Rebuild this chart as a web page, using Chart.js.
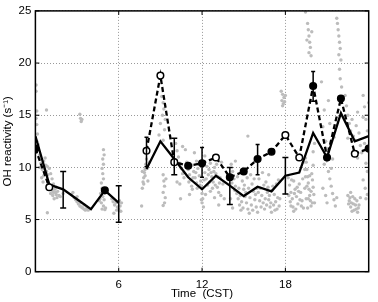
<!DOCTYPE html>
<html>
<head>
<meta charset="utf-8">
<script src="https://cdn.jsdelivr.net/npm/chart.js@4/dist/chart.umd.min.js"></script>
<style>
    html, body { margin: 0; padding: 0; background: #fff; }
    #wrap { width: 378px; height: 302px; }
</style>
</head>
<body>
<div id="wrap"><canvas id="chart" width="378" height="302"></canvas></div>
<script>
// Hourly values (CST)
const hours = [0,1,2,3,4,5,6,7,8,9,10,11,12,13,14,15,16,17,18,19,20,21,22,23,24];
const modelVals = [13.0,8.35,7.9,6.95,6.0,7.8,6.6,null,9.85,12.5,10.8,9.05,7.9,9.2,8.25,7.25,8.15,7.7,9.2,9.5,13.3,10.95,15.2,12.5,13.0];
const measVals = [11.8,8.1,null,null,null,7.8,null,null,11.6,18.8,10.5,10.15,10.4,10.95,9.05,9.6,10.8,11.5,13.1,10.95,17.8,10.95,16.6,11.3,11.8];
const openHours = [1,8,9,10,13,18,19,23];

// Error bars
const modelErrHours = [2,6,10,14,18];
const modelErrLow = [6.1,4.75,9.3,6.45,7.45];
const modelErrHigh = [9.6,8.25,12.8,10.0,10.95];
const measErrHours = [8,12,16,20];
const measErrLow = [10.05,9.05,9.3,16.35];
const measErrHigh = [12.9,11.9,12.2,19.2];

// Raw observations (grey dots), [hour, value]
const rawPoints = [
    [0.05,17.9],[0.05,17.3],[0.1,15.4],[0.05,14.7],[0.1,14.1],[0.15,13.2],[0.1,12.5],[0.2,12.2],[0.8,15.5],
    [0.3,11.2],[0.35,10.8],[0.4,10.4],[0.3,10.0],[0.5,9.8],[0.6,10.6],[0.7,10.9],[0.75,10.2],[0.8,9.6],
    [0.9,9.3],[0.6,9.2],[0.45,9.0],[1.0,9.9],[1.1,9.4],[1.2,8.9],[0.9,8.6],[1.05,8.2],[1.2,7.8],[1.3,7.6],
    [1.4,7.9],[1.5,7.4],[1.6,7.7],[1.7,7.3],[1.1,7.5],[0.95,7.9],[1.3,8.4],[1.5,8.1],[0.86,5.65],[1.8,7.2],[2.0,7.5],
    [0.55,8.6],[0.65,9.9],[0.85,10.1],[1.15,8.0],[1.25,7.3],[1.35,7.0],[1.45,7.6],[1.55,7.1],
    [2.6,7.4],[2.8,7.1],[2.9,6.9],[3.0,6.7],[3.1,6.5],[3.2,6.3],[3.3,6.2],[3.4,6.1],[3.5,6.0],[3.6,5.9],
    [3.7,6.1],[3.8,5.9],[3.3,6.6],[3.0,7.2],[2.7,7.6],[3.5,6.4],
    [3.2,15.1],[3.25,14.7],[3.3,14.4],[3.35,14.6],
    [4.9,11.7],[4.95,11.2],[4.85,10.8],[4.9,10.3],[4.8,9.9],[4.85,9.4],[4.9,8.9],[4.75,8.5],[4.8,8.0],
    [4.7,7.5],[4.85,7.2],[4.95,6.9],[4.75,6.6],[4.9,6.3],[5.05,6.1],[4.8,6.0],[5.0,5.95],[4.6,6.8],[4.65,7.0],
    [5.5,7.0],[5.6,6.7],[5.7,6.4],[5.8,6.6],[5.9,6.2],[6.0,6.0],[6.1,6.3],[6.2,6.6],[5.65,5.6],[5.85,5.9],[6.05,6.8],[6.15,5.8],
    [7.65,6.3],[7.7,8.0],[7.75,8.6],[7.8,9.0],[7.85,9.5],[7.9,9.8],[7.95,10.3],[8.0,10.8],[7.8,8.4],
    [7.9,9.2],[8.05,9.9],[8.1,8.7],[7.7,9.6],[8.2,10.5],
    [9.1,16.8],[9.2,16.2],[9.25,15.6],[9.15,15.0],[9.0,14.2],[9.3,13.6],[8.9,13.1],[9.35,14.6],[9.2,12.6],
    [9.2,9.3],[9.25,8.7],[9.3,8.2],[9.2,7.6],[9.35,7.1],[9.3,6.6],[9.2,6.35],[9.4,8.9],
    [10.1,12.3],[10.2,11.6],[10.3,11.0],[10.4,10.4],[10.5,9.9],[10.6,9.4],[10.7,9.0],[10.2,8.6],[10.4,8.4],
    [10.8,11.7],[10.6,12.0],[10.45,7.0],
    [10.9,10.5],[11.0,9.8],[11.1,9.3],[11.2,8.8],[11.3,10.2],[11.4,9.6],[11.5,9.0],[11.6,8.5],[11.7,9.9],
    [11.8,9.2],[11.9,8.7],[12.0,8.1],[12.0,7.5],[12.05,7.0],[12.0,6.6],[12.1,6.2],[11.95,6.9],[12.2,9.5],
    [12.3,8.9],[12.4,8.3],[12.5,9.8],[12.6,10.4],[12.7,9.1],[12.8,8.6],[12.9,10.0],[13.0,9.4],[13.1,8.1],
    [13.2,7.6],[13.3,9.0],[13.4,10.5],[13.5,8.4],[13.6,7.0],[13.2,6.4],[11.6,10.6],[11.3,7.9],[11.1,7.4],
    [12.6,7.7],[12.9,7.1],[11.45,11.4],[12.2,11.1],
    [11.05,8.6],[11.15,10.0],[11.25,8.2],[11.35,9.0],[11.55,9.5],[11.65,8.0],[11.75,10.3],[11.85,8.3],
    [12.15,8.8],[12.25,7.4],[12.35,10.1],[12.45,9.3],[12.55,8.6],[12.65,9.5],[12.75,8.0],[12.85,9.6],
    [12.95,8.3],[13.05,10.3],[13.15,9.1],[13.25,8.5],[13.35,7.3],
    [14.1,10.3],[14.2,9.6],[14.3,8.9],[14.4,8.2],[14.5,7.5],[14.6,7.0],[14.7,6.4],[14.8,5.9],[14.9,8.7],
    [15.0,7.9],[15.1,7.2],[15.2,6.6],[15.3,6.0],[15.4,5.6],[15.5,9.3],[15.6,8.4],[15.7,7.7],[15.8,6.9],
    [15.9,6.2],[14.4,10.6],[15.3,13.0],[14.05,7.0],[14.2,6.1],[15.0,9.9],
    [14.15,8.5],[14.35,7.8],[14.55,9.1],[14.65,8.0],[14.75,7.3],[14.85,6.7],[14.95,6.1],[15.05,8.3],
    [15.15,7.6],[15.25,9.0],[15.35,8.0],[15.45,7.1],[15.55,6.4],[15.65,5.9],[15.75,8.9],[15.85,7.4],[15.95,8.0],
    [16.1,8.9],[16.2,8.0],[16.3,7.3],[16.4,6.6],[16.5,6.0],[16.6,8.6],[16.7,7.6],[16.8,6.9],[16.9,6.2],
    [17.0,5.7],[17.1,8.2],[17.2,7.4],[17.3,6.7],[17.4,6.0],[17.5,8.8],[17.6,7.0],[16.35,9.5],[16.8,9.3],[16.0,5.7],
    [16.05,7.6],[16.15,6.8],[16.25,6.2],[16.45,8.3],[16.55,7.0],[16.65,6.4],[16.75,8.1],[16.85,7.3],
    [16.95,6.6],[17.05,7.8],[17.15,6.4],[17.25,5.9],[17.35,8.4],[17.45,7.1],[17.55,6.3],
    [17.7,17.3],[17.8,17.0],[17.9,16.7],[17.75,16.4],[17.85,16.1],[18.0,16.9],[17.95,16.3],[17.8,15.9],
    [18.2,9.0],[18.3,8.3],[18.4,7.6],[18.5,7.0],[18.6,8.7],[18.7,7.9],[18.8,7.2],[18.9,6.5],[19.0,8.4],
    [19.1,7.6],[19.2,6.8],[19.3,6.1],[18.4,6.3],[18.6,5.8],[19.4,9.8],[19.3,10.5],[19.45,10.9],
    [18.25,7.3],[18.35,6.7],[18.45,8.8],[18.55,6.2],[18.65,7.5],[18.75,6.0],[18.85,8.1],[18.95,7.7],
    [19.05,6.9],[19.15,6.3],[19.25,8.9],
    [19.45,24.9],[19.6,23.8],[19.65,23.2],[19.7,22.6],[19.75,22.0],[19.8,21.5],[19.7,21.0],[19.85,20.7],[19.9,23.0],[19.55,22.2],
    [19.5,10.5],[19.55,9.8],[19.6,9.1],[19.65,8.5],[19.7,7.9],[19.75,7.3],[19.8,6.8],[19.85,6.3],[19.9,9.4],
    [19.95,8.8],[20.0,8.1],[20.05,7.4],[19.5,7.0],[19.4,8.0],[20.1,6.6],[19.6,6.1],[20.0,10.2],[20.0,11.5],[20.1,12.3],
    [19.55,8.2],[19.65,7.0],[19.75,9.2],[19.85,7.7],[19.95,6.6],[19.45,9.1],
    [20.6,18.2],[20.8,15.5],[20.7,13.9],[20.9,12.5],[21.0,11.8],[20.8,10.3],[21.1,9.6],[21.2,8.9],[21.3,8.2],
    [21.4,7.5],[21.5,6.9],[21.6,6.3],[21.3,9.9],[21.4,10.8],[20.7,8.0],[20.9,7.3],[21.0,6.6],[21.7,7.1],
    [21.5,12.9],[21.2,14.2],[21.1,16.4],
    [21.7,24.3],[21.75,23.8],[21.8,23.2],[21.85,22.6],[21.9,22.0],[21.95,21.4],[21.85,20.8],[22.0,20.3],
    [21.9,19.4],[21.95,18.5],[22.05,17.7],
    [22.3,16.9],[22.4,15.9],[22.5,15.0],[22.6,14.2],[22.7,13.5],[22.8,14.6],[22.9,13.0],[23.0,12.6],[23.1,14.0],
    [23.2,15.3],[23.3,13.3],[23.4,12.1],[23.5,11.4],[23.6,14.8],[22.5,12.8],[22.9,11.2],[23.2,10.9],
    [22.5,7.3],[22.6,6.8],[22.7,6.2],[22.8,5.8],[22.9,6.5],[23.0,7.0],[23.1,6.0],[23.2,5.7],[23.3,6.4],[23.4,7.1],[22.7,7.6],
    [22.55,6.5],[22.65,7.1],[22.75,6.6],[22.85,7.2],[22.95,5.9],[23.05,6.4],[23.15,6.8],[23.25,6.1],
    [23.6,16.9],[23.7,15.8],[23.8,14.6],[23.9,13.5],[23.7,12.3],[23.8,10.4],[23.9,9.6],[23.6,8.8],[23.75,8.0],
    [23.9,7.4],[23.8,7.0],[24.0,16.2],[23.95,11.6]
];

const xTicks = [6, 12, 18];
const yTicks = [0, 5, 10, 15, 20, 25];

const FONT = 'Liberation Sans, Arial, sans-serif';

// Error bars, box frame and inward ticks
const extrasPlugin = {
    id: 'extras',
    afterDatasetsDraw(chart) {
        const ctx = chart.ctx;
        const xs = chart.scales.x;
        const ys = chart.scales.y;

        function bars(hrs, lo, hi, cap) {
            ctx.save();
            ctx.strokeStyle = '#000';
            ctx.lineWidth = 1.5;
            hrs.forEach((h, i) => {
                const px = xs.getPixelForValue(h);
                const y1 = ys.getPixelForValue(lo[i]);
                const y2 = ys.getPixelForValue(hi[i]);
                ctx.beginPath();
                ctx.moveTo(px, y1); ctx.lineTo(px, y2);
                ctx.moveTo(px - cap, y1); ctx.lineTo(px + cap, y1);
                ctx.moveTo(px - cap, y2); ctx.lineTo(px + cap, y2);
                ctx.stroke();
            });
            ctx.restore();
        }
        bars(modelErrHours, modelErrLow, modelErrHigh, 3);
        bars(measErrHours, measErrLow, measErrHigh, 2);
    },
    afterDraw(chart) {
        const ctx = chart.ctx;
        const a = chart.chartArea;
        const xs = chart.scales.x;
        const ys = chart.scales.y;
        ctx.save();
        ctx.strokeStyle = '#000';
        ctx.lineWidth = 1.5;
        ctx.strokeRect(a.left, a.top, a.right - a.left, a.bottom - a.top);
        ctx.lineWidth = 1;
        ctx.beginPath();
        xTicks.forEach(t => {
            const px = xs.getPixelForValue(t);
            ctx.moveTo(px, a.bottom); ctx.lineTo(px, a.bottom - 4);
            ctx.moveTo(px, a.top); ctx.lineTo(px, a.top + 4);
        });
        yTicks.forEach(t => {
            const py = ys.getPixelForValue(t);
            ctx.moveTo(a.left, py); ctx.lineTo(a.left + 4, py);
            ctx.moveTo(a.right, py); ctx.lineTo(a.right - 4, py);
        });
        ctx.stroke();
        ctx.restore();
    }
};

new Chart(document.getElementById('chart').getContext('2d'), {
    type: 'scatter',
    data: {
        datasets: [
            {
                label: 'measured (dashed)',
                type: 'line',
                data: hours.map((h, i) => ({ x: h, y: measVals[i] })),
                borderColor: '#000',
                borderWidth: 2.3,
                borderDash: [5, 3],
                spanGaps: false,
                pointRadius: 3.3,
                pointBorderWidth: 1.5,
                pointBorderColor: '#000',
                pointBackgroundColor: c => openHours.includes(hours[c.dataIndex]) ? '#fff' : '#000',
                order: 1
            },
            {
                label: 'model (solid)',
                type: 'line',
                data: hours.map((h, i) => ({ x: h, y: modelVals[i] })),
                borderColor: '#000',
                borderWidth: 2.3,
                spanGaps: false,
                pointRadius: 0,
                order: 2
            },
            {
                label: 'raw',
                data: rawPoints.map(p => ({ x: p[0], y: p[1] })),
                backgroundColor: '#bcbcbc',
                borderWidth: 0,
                pointRadius: 1.7,
                order: 3
            }
        ]
    },
    options: {
        responsive: false,
        animation: false,
        layout: { padding: { left: 0, right: 9.3, top: 9.3, bottom: 0 } },
        plugins: {
            legend: { display: false },
            tooltip: { enabled: false }
        },
        scales: {
            x: {
                type: 'linear',
                min: 0,
                max: 24,
                afterFit: s => { s.height = 30.3; },
                afterBuildTicks: s => { s.ticks = [0, 6, 12, 18, 24].map(v => ({ value: v })); },
                ticks: {
                    color: '#000',
                    font: { family: FONT, size: 11.5 },
                    padding: 6,
                    maxRotation: 0,
                    callback: v => (v === 0 || v === 24) ? '' : String(v)
                },
                grid: { color: '#999', lineWidth: 1, tickLength: 0 },
                border: { display: false, dash: [1, 2] },
                title: {
                    display: true,
                    text: 'Time  (CST)',
                    color: '#000',
                    font: { family: FONT, size: 11.5 },
                    padding: { top: 0, bottom: 1 }
                }
            },
            y: {
                min: 0,
                max: 25,
                afterFit: s => { s.width = 35.4; },
                ticks: {
                    stepSize: 5,
                    color: '#000',
                    font: { family: FONT, size: 11.5 },
                    padding: 4
                },
                grid: { color: '#999', lineWidth: 1, tickLength: 0 },
                border: { display: false, dash: [1, 2] },
                title: {
                    display: true,
                    text: 'OH reactivity (s\u207B\u00B9)',
                    color: '#000',
                    font: { family: FONT, size: 11.5 },
                    padding: { top: 1, bottom: 0 }
                }
            }
        }
    },
    plugins: [extrasPlugin]
});
</script>
</body>
</html>
